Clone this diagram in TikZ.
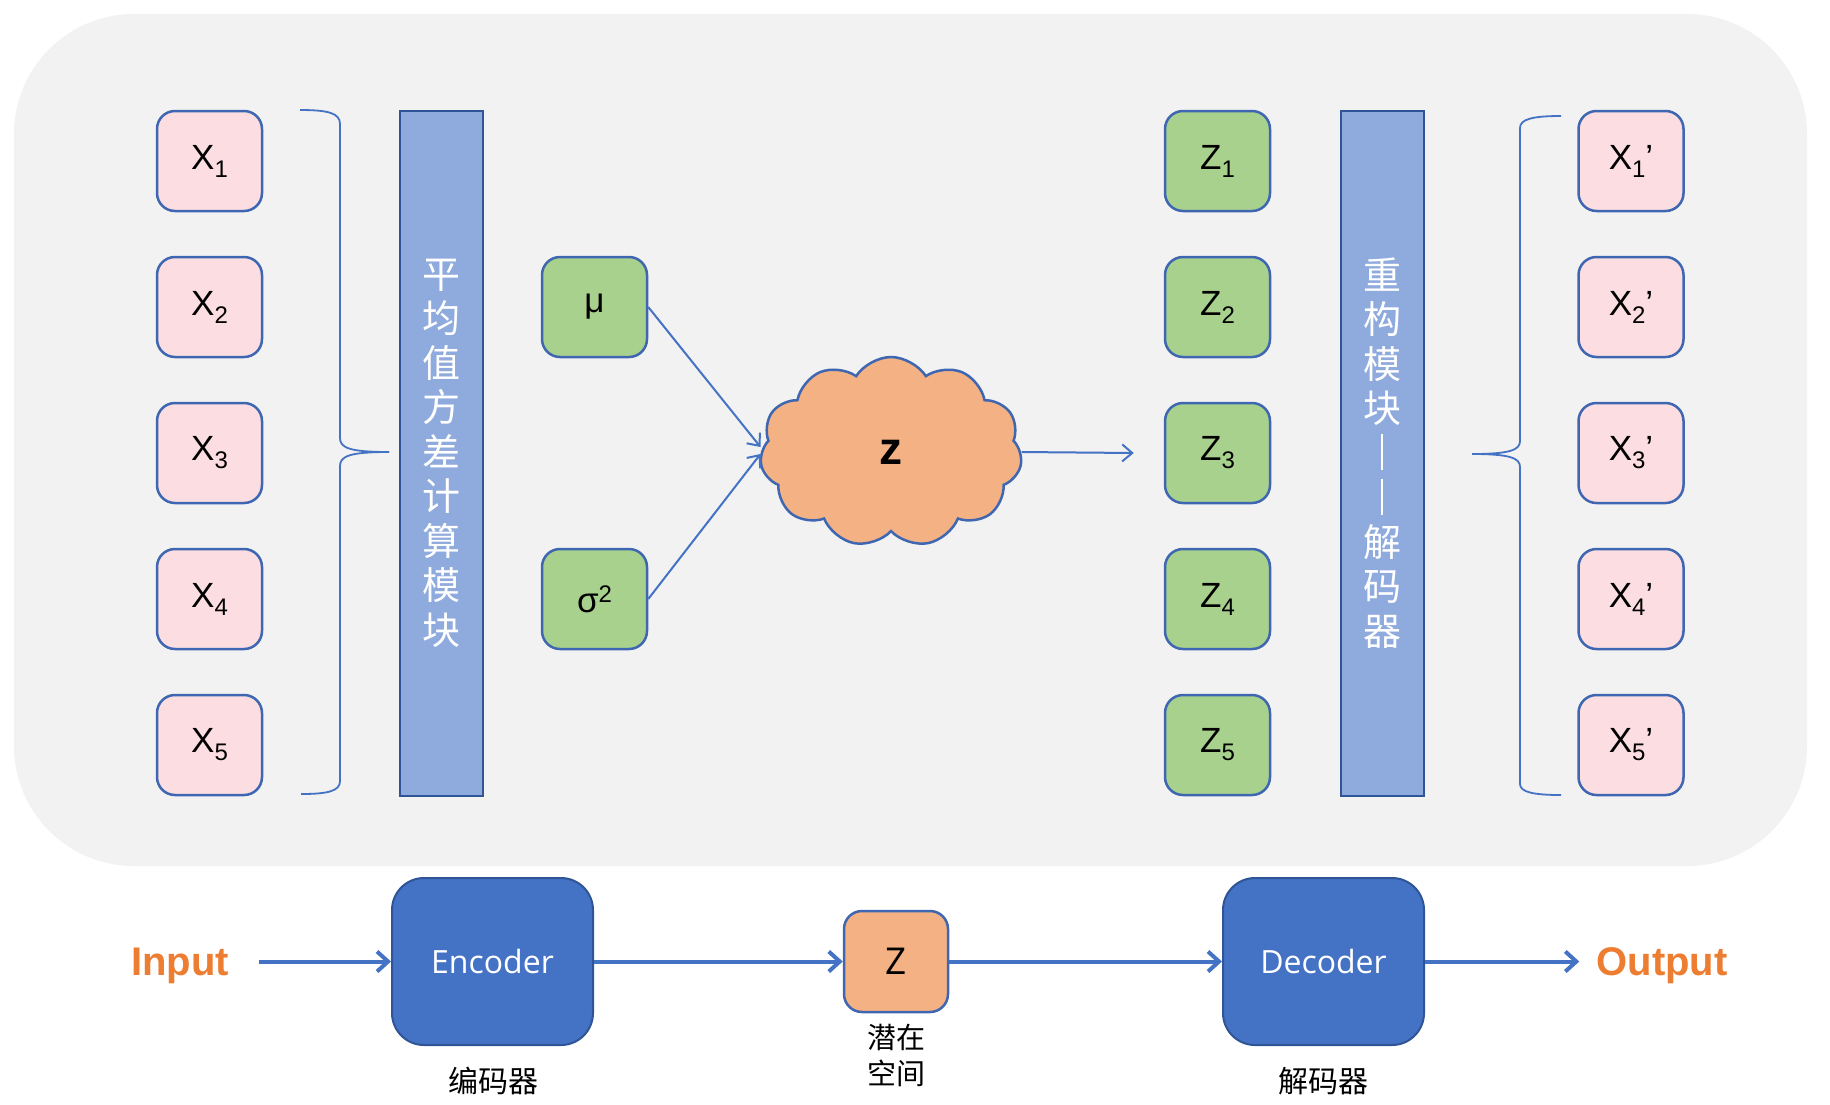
\documentclass[tikz,border=0pt]{standalone}
\usepackage{fontspec}
\setmainfont{Liberation Sans}
\newfontfamily\cjk{Noto Sans CJK SC}
\newfontfamily\osans{Open Sans}
\usetikzlibrary{shapes.symbols,arrows.meta}
\definecolor{bgc}{HTML}{F2F2F2}
\definecolor{pinkc}{HTML}{FBDDE2}
\definecolor{greenc}{HTML}{A9D18E}
\definecolor{bordc}{HTML}{3F67B1}
\definecolor{barfill}{HTML}{8FAADC}
\definecolor{bardraw}{HTML}{2F5597}
\definecolor{cloudc}{HTML}{F4B183}
\definecolor{bluebox}{HTML}{4472C4}
\definecolor{blueline}{HTML}{4472C4}
\definecolor{orangec}{HTML}{ED7D31}
\newcommand{\fsz}[1]{\fontsize{#1}{#1}\selectfont}
\newcommand{\Xsub}[2]{#1\raisebox{-8pt}{\fsz{24}#2}}
\newcommand{\Xpr}[2]{#1\raisebox{-8pt}{\fsz{24}#2}’}
\newcommand{\vdashbar}{\rule[-3pt]{2.2pt}{36pt}}
\begin{document}
\begin{tikzpicture}[x=1pt,y=-1pt,
  xbox/.style={draw=bordc, fill=pinkc, line width=2.5pt, rounded corners=18pt,
    minimum width=105pt, minimum height=100pt, inner sep=0pt, font=\fsz{35}},
  gbox/.style={xbox, fill=greenc},
  barbox/.style={draw=bardraw, fill=barfill, line width=2pt, minimum width=83pt,
    minimum height=685pt, inner sep=0pt, text=white, align=center,
    font=\cjk\fontsize{38}{44.5}\selectfont},
  bigbox/.style={draw=bardraw, fill=bluebox, line width=2pt, rounded corners=32pt,
    minimum width=201pt, minimum height=167pt, inner sep=0pt, text=white,
    font=\osans\fsz{32}},
  iolabel/.style={text=orangec, font=\bfseries\fsz{40}, inner sep=0pt, anchor=base},
  cnlabel/.style={font=\cjk\fsz{30}, inner sep=0pt, align=center},
  brc/.style={draw=blueline, line width=1.8pt},
  thinarr/.style={draw=blueline, line width=2pt, -{Straight Barb[length=10pt,width=17pt]}},
  thickarr/.style={draw=blueline, line width=4pt, -{Straight Barb[length=11pt,width=20pt]}}
]
\path[use as bounding box] (0,0) rectangle (1830,1104);
\fill[white] (0,0) rectangle (1830,1104);
\fill[bgc, rounded corners=120pt] (14,14) rectangle (1807,866);

% input boxes
\node[xbox] (x1) at (209.5,161) {\Xsub{X}{1}};
\node[xbox] (x2) at (209.5,307) {\Xsub{X}{2}};
\node[xbox] (x3) at (209.5,453) {\Xsub{X}{3}};
\node[xbox] (x4) at (209.5,599) {\Xsub{X}{4}};
\node[xbox] (x5) at (209.5,745) {\Xsub{X}{5}};

% left brace
\draw[brc] (300,110) .. controls (328,110) and (340,113) .. (340,124) -- (340,438)
  .. controls (340,448) and (350,452) .. (389,452);
\draw[brc] (389,452) .. controls (350,452) and (340,456) .. (340,466) -- (340,781)
  .. controls (340,791) and (328,794) .. (301,794);

% encoder bar
\node[barbox] (encbar) at (441.5,453) {平\\均\\值\\方\\差\\计\\算\\模\\块};

% mu and sigma
\node[gbox] (mu) at (594.5,307) {μ};
\node[gbox] (sig) at (594.5,599) {σ\raisebox{10pt}{\fsz{24}2}};

% cloud
\node[cloud, cloud puffs=11, cloud puff arc=115, cloud ignores aspect,
  draw=bordc, fill=cloudc, line width=2.5pt, minimum width=262pt, minimum height=190pt,
  inner sep=0pt, font=\bfseries\fsz{46}] (cloud) at (891,452) {z};

\draw[thinarr] (mu.east) -- ([yshift=5pt]cloud.west);
\draw[thinarr] (sig.east) -- ([yshift=-2pt]cloud.west);

% latent boxes
\node[gbox] (z1) at (1217.5,161) {\Xsub{Z}{1}};
\node[gbox] (z2) at (1217.5,307) {\Xsub{Z}{2}};
\node[gbox] (z3) at (1217.5,453) {\Xsub{Z}{3}};
\node[gbox] (z4) at (1217.5,599) {\Xsub{Z}{4}};
\node[gbox] (z5) at (1217.5,745) {\Xsub{Z}{5}};

\draw[thinarr] (cloud.east) -- ([xshift=-30pt]z3.west);

% decoder bar
\node[barbox] (decbar) at (1382,453) {重\\构\\模\\块\\\vdashbar\\\vdashbar\\解\\码\\器};

% right brace
\draw[brc] (1561,116) .. controls (1533,116) and (1520,119) .. (1520,128) -- (1520,441)
  .. controls (1520,450) and (1510,454) .. (1472,454);
\draw[brc] (1472,454) .. controls (1510,454) and (1520,458) .. (1520,467) -- (1520,784)
  .. controls (1520,792) and (1533,795) .. (1561,795);

% output boxes
\node[xbox] (y1) at (1631,161) {\Xpr{X}{1}};
\node[xbox] (y2) at (1631,307) {\Xpr{X}{2}};
\node[xbox] (y3) at (1631,453) {\Xpr{X}{3}};
\node[xbox] (y4) at (1631,599) {\Xpr{X}{4}};
\node[xbox] (y5) at (1631,745) {\Xpr{X}{5}};

% bottom pipeline
\node[iolabel] (inp) at (180,975) {Input};
\node[bigbox] (enc) at (492.5,961.5) {Encoder};
\node[xbox, fill=cloudc, minimum width=104pt, minimum height=101pt, font=\osans\fsz{37}] (zb) at (896,961.5) {Z};
\node[bigbox] (dec) at (1323.5,961.5) {Decoder};
\node[iolabel] (outp) at (1662,975) {Output};

\draw[thickarr] ([xshift=30pt]inp.east |- enc.west) -- (enc.west);
\draw[thickarr] (enc.east) -- (zb.west);
\draw[thickarr] (zb.east) -- (dec.west);
\draw[thickarr] (dec.east) -- ([xshift=-17pt]outp.west |- dec.east);

\node[cnlabel] (lenc) at (493,1081) {编码器};
\node[cnlabel, font=\cjk\fontsize{29}{36}\selectfont] (lz) at (896,1055) {潜在\\空间};
\node[cnlabel] (ldec) at (1323,1081) {解码器};
\end{tikzpicture}
\end{document}
